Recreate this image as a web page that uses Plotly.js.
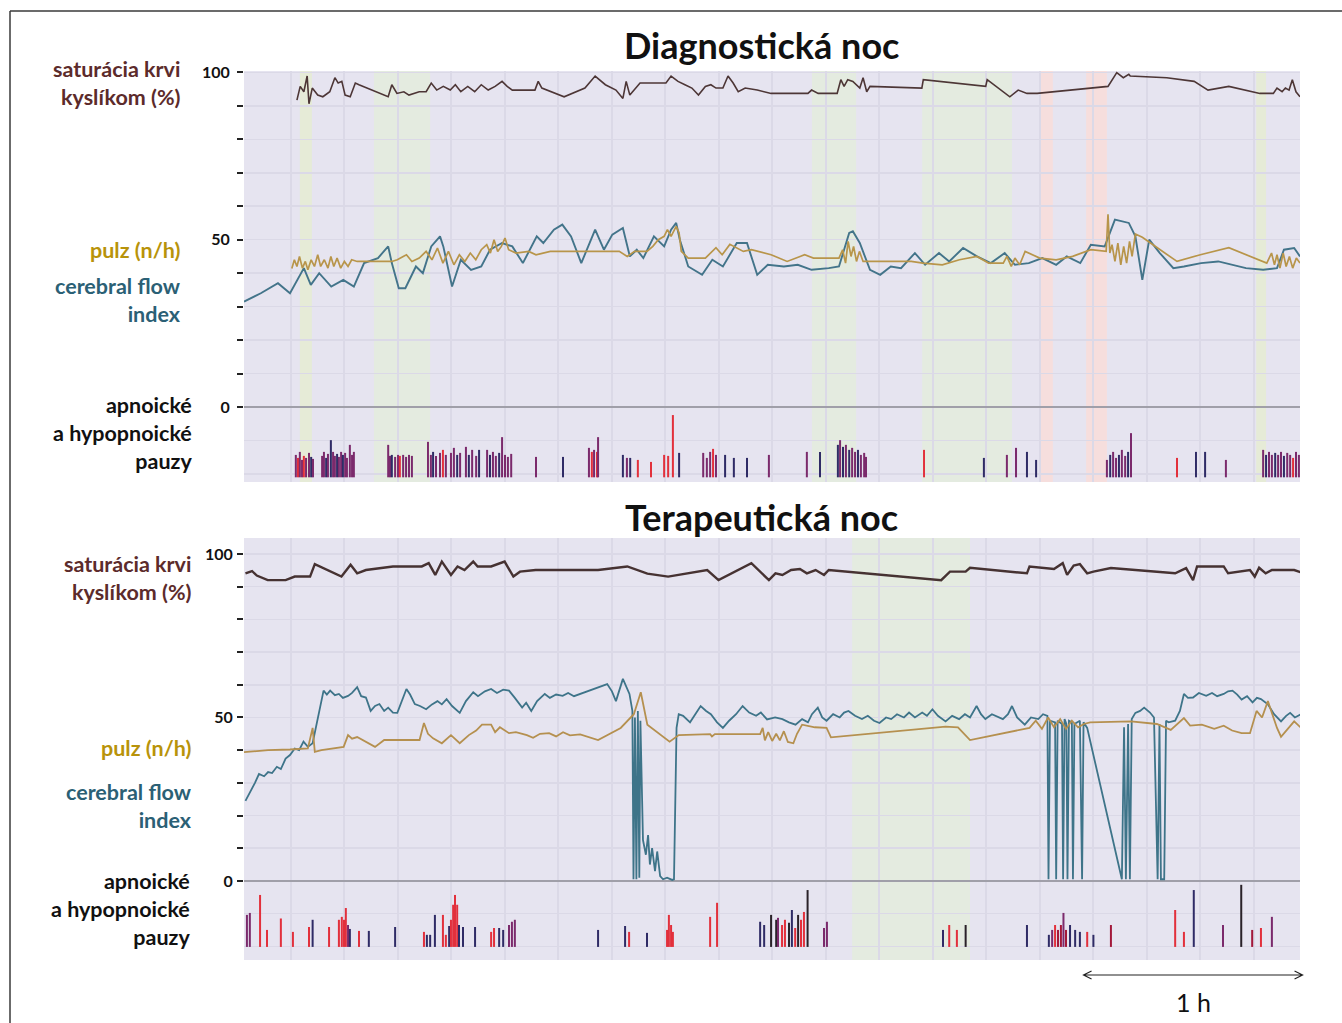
<!DOCTYPE html>
<html>
<head>
<meta charset="utf-8">
<script src="https://cdn.plot.ly/plotly-3.0.1.min.js"></script>
<style>
html,body{margin:0;padding:0;background:#ffffff;}
#chart{width:1342px;height:1023px;}
</style>
</head>
<body>
<div id="chart"></div>
<script>
// ---------------- DATA (x = minutes from start of recording) ----------------
// Diagnostic night
const diagSatMin = [14.5,15.4,16.4,17.3,17.8,18.7,20.2,21.6,23.5,24.9,25.8,26.8,27.7,29.1,30.5,31.5,39.5,40.5,41.9,43.8,45.2,48.0,49.9,51.3,52.8,54.6,56.5,57.9,59.4,61.3,63.2,65.0,66.9,68.8,70.7,72.1,73.5,79.7,80.6,81.6,87.7,93.4,96.2,99.0,101.9,103.8,104.7,105.7,108.5,115.6,117.0,118.9,120.8,122.7,124.5,126.4,127.9,129.3,131.2,132.6,134.0,135.4,137.3,140.6,144.4,154.5,155.5,157.3,162.5,163.5,164.4,165.4,166.8,168.7,169.6,170.6,171.5,185.7,186.1,203.2,203.6,209.8,212.1,214.5,217.3,236.7,239.1,240.9,242.4,242.8,252.8,260.3,264.1,269.8,278.3,282.0,283.0,284.4,285.3,286.3,287.2,288.2,289.3];
const diagSat = [91.7,95.8,94.2,98.9,90.6,95.3,93.2,92.7,94.2,98.4,96.8,97.3,93.2,92.7,96.8,96.3,92.7,96.3,93.7,94.2,93.2,94.2,94.2,96.8,94.7,95.8,94.7,96.3,94.2,95.8,94.2,96.3,94.7,95.8,97.3,95.8,94.7,94.7,97.3,95.3,92.7,95.3,98.9,96.3,94.7,92.2,97.3,93.2,96.8,96.8,98.9,97.3,96.3,95.3,93.2,95.8,96.3,95.3,95.3,98.9,96.8,94.2,95.3,94.7,93.7,93.7,94.7,93.7,93.7,97.8,95.8,97.8,97.3,95.3,98.4,94.2,95.8,95.3,97.8,95.8,97.8,92.7,94.7,93.7,93.7,95.8,99.9,98.4,99.4,98.9,98.4,97.3,94.7,95.8,93.7,93.7,95.3,94.2,95.3,94.7,97.8,94.2,92.7];

const diagCfiMin = [0,4.6,9.3,12.6,16.4,18.3,20.6,23.9,27.2,30.1,32.9,36.7,39.5,40.5,42.4,44.2,47.1,49.0,51.3,53.7,54.6,57.0,59.4,62.2,65.0,67.4,70.7,73.5,76.4,80.2,82.0,84.9,87.2,89.6,92.4,96.2,98.6,100.9,103.8,105.7,107.6,109.4,112.3,115.1,117.0,118.4,119.4,121.7,125.5,128.3,131.2,135.0,137.8,140.6,143.5,
  147.9,151.7,155.5,160.2,163.0,165.8,166.8,168.7,171.5,174.3,177.2,180.0,183.8,186.6,190.4,193.2,197.0,200.8,204.6,208.4,211.2,215.0,218.7,222.5,225.4,229.1,232.0,235.8,237.6,238.6,242.4,244.2,246.1,248.0,250.9,254.6,257.5,262.2,266.9,270.7,274.5,279.2,283.0,284.9,287.7,289.3];
const diagCfi = [31.5,34,37,34,41.5,36.5,40,36,38,36,43,44.5,48,43,35.5,35.5,42,40,48,51,48,36,44,41,42,47,49,48,43,51,49,53,54.5,51,43,53,47,51.5,53.5,45,47,44.5,51,48,53,55,50,42,39.5,44,42,49,49,39.5,42.5,
  42,42.5,41,41.5,42,52,52.5,49,41,39.5,42,41.5,46,42.5,46,43.5,47.5,45,43,46,42.5,43,44.5,42.5,45,43,48.5,48,53.5,56,55,51,38,50,46,41.5,42,43,43.5,42.5,41.5,41,41.5,47,47.5,45];

const diagPulseMin = [13.1,13.8,14.5,15.2,16.0,16.8,17.5,18.4,19.3,20.2,21.0,22.0,23.0,23.8,24.6,25.5,26.5,27.5,28.5,29.5,31.0,36.0,40.5,42.0,44.5,46.0,48.0,49.9,51.5,53.0,54.5,56.0,57.5,59.0,60.5,62.0,63.5,65.0,66.5,67.5,68.5,69.5,70.5,71.5,72.5,74.5,78.0,80.0,83.9,92.0,100.0,102.8,105.0,107.0,110.4,112.0,113.5,115.1,116.0,117.0,118.4,119.2,119.8,121.7,126.4,129.3,131.0,133.1,136.8,139.0,144.4,148.8,153.6,156.0,163.0,164.0,164.8,165.5,166.3,167.0,167.8,168.6,169.6,170.6,182.8,186.0,191.3,196.0,200.8,204.0,208.0,209.0,210.2,211.2,212.5,214.0,218.0,222.5,227.0,232.0,236.2,236.7,237.2,237.8,238.6,239.4,240.2,241.0,241.8,242.6,243.3,244.2,246.1,255.6,262.0,269.8,280.2,281.5,282.3,283.0,283.8,284.7,285.5,286.4,287.3,288.3,289.3];
const diagPulse = [41.4,44,42,45,41.5,43.5,41,44,42,45.5,42,44,41.5,45,42,44.5,41.5,43.5,42,44,43.5,43.5,43.5,44,45.5,43.5,44.5,46.5,44,47.5,43,46.5,42.5,45.5,43.5,46,44,47,48.5,46,50,46.5,48,50.5,47,46,46.5,45.5,46.5,46.5,46.5,46.5,45,46.5,46.5,48,50,51,53,51,54,52,46.5,44.5,44.5,47.6,45.5,48.6,46.5,47,45.5,43.5,45.5,44.5,44.5,47,43,49.5,45,48,43.5,46.5,43.5,43.5,43.5,43,42.5,44,45,43,43,45,42,44.5,42.5,46.5,44.5,44,45,47,46.5,57.6,46,48.5,43.5,49,42.5,48,43,49.5,45,51.7,50.7,43.5,45.5,47.6,43,46,42.5,45.5,41.5,46,42,45,41.5,44.5,43];

// apnoe / hypopnoe events: time, top of mark, event type
const diagApneaMin = [14.2,14.8,15.3,15.9,16.4,17.0,17.8,18.4,18.9,21.4,21.9,22.5,23.0,23.8,24.4,24.9,25.5,26.0,26.6,27.1,27.7,28.2,29.0,29.6,30.1,
  39.5,40.0,40.5,41.4,42.2,42.7,43.6,44.4,45.2,46.0,
  50.4,51.2,51.8,52.6,53.7,54.5,55.3,56.7,57.5,58.4,59.2,60.8,61.6,62.5,63.6,64.4,66.6,67.4,68.2,69.0,69.9,70.7,71.5,72.3,73.2,
  80.0,87.4,94.5,95.3,95.9,96.7,97.0,103.8,104.9,105.8,107.9,111.5,115.1,116.2,117.5,119.2,
  125.8,126.8,127.7,128.5,129.3,131.8,134.2,137.8,143.8,154.2,157.8,
  162.7,163.3,164.1,164.9,165.8,166.6,167.4,168.2,169.0,169.9,170.4,
  186.3,202.7,209.0,211.5,214.5,217.0,
  236.4,237.3,238.1,238.9,239.7,240.5,241.4,242.2,243.0,
  255.6,260.8,263.3,269.0,
  279.2,280.0,280.8,281.6,282.5,283.3,284.1,284.9,285.8,286.6,287.4,288.2,289.0];
const diagApneaTop = [-14.3,-15.2,-13.4,-15.8,-14.6,-15.2,-13.7,-14.9,-15.5,-14.6,-13.4,-15.2,-14.0,-9.9,-13.4,-14.6,-14.0,-14.9,-13.4,-14.3,-13.7,-15.2,-11.3,-14.3,-13.4,
  -11.3,-14.6,-14.3,-14.9,-14.3,-14.6,-14.3,-14.9,-14.3,-14.6,
  -10.4,-14.3,-13.4,-14.6,-13.7,-12.8,-14.3,-13.7,-12.2,-14.3,-13.7,-11.9,-14.3,-12.8,-14.6,-12.8,-12.8,-14.3,-13.4,-14.6,-13.7,-9.0,-14.3,-14.9,-14.0,
  -14.9,-14.9,-12.2,-13.4,-12.8,-13.4,-9.0,-14.3,-15.2,-15.2,-15.8,-16.4,-14.3,-14.6,-2.4,-13.7,
  -13.7,-15.2,-13.4,-12.5,-14.3,-14.3,-15.2,-15.2,-14.3,-13.4,-13.4,
  -11.3,-9.9,-11.9,-11.3,-12.8,-12.2,-13.4,-12.8,-14.3,-13.7,-14.9,
  -12.8,-15.2,-14.3,-12.2,-13.4,-15.8,
  -15.8,-14.3,-13.4,-15.2,-14.3,-12.8,-14.6,-13.4,-7.8,
  -15.2,-13.4,-13.4,-15.8,
  -12.8,-14.3,-13.4,-14.3,-13.7,-14.3,-13.4,-14.6,-13.7,-14.3,-15.2,-13.4,-14.3];
const diagApneaType = ['P','R','P','P','R','P','P','N','P','P','P','N','P','N','P','P','N','P','P','N','P','P','P','P','P',
  'P','P','N','P','P','R','P','P','P','P',
  'P','P','N','P','P','R','P','P','P','N','P','P','N','P','P','N','P','N','P','P','N','P','P','P','P',
  'P','N','P','R','P','R','P','N','P','N','R','R','R','R','R','N',
  'P','P','P','R','P','N','N','N','P','P','N',
  'N','P','N','P','N','P','P','N','P','P','P',
  'R','N','P','P','N','N',
  'P','N','P','P','N','P','P','N','P',
  'R','N','N','P',
  'P','N','P','P','N','P','P','N','P','P','R','P','P'];

// Therapeutic night
const theraSatMin = [0.4,2.2,3.5,6.5,11.4,13.9,18.1,19.4,26.7,29.2,31.0,33.4,40.8,48.7,50.6,52.4,54.2,56.7,58.5,60.4,62.8,64.0,67.7,71.4,73.8,75.6,79.9,97.0,105.0,110.5,116.2,126.9,130.0,139.0,143.8,145.6,147.5,149.9,152.3,154.2,156.6,158.9,160.2,191.0,193.4,197.7,198.9,214.5,215.2,221.9,224.3,225.5,227.3,229.0,231.0,232.7,237.5,255.1,258.1,260.0,261.1,268.4,269.6,275.6,276.9,278.1,279.9,281.6,287.7,289.6];
const theraSat = [94.1,94.8,93.4,92.0,92.0,93.1,93.1,96.9,93.1,96.7,94.1,95.1,96.2,96.2,97.2,93.6,97.7,93.6,96.2,95.1,97.7,96.2,96.2,97.7,93.1,94.6,95.1,95.1,96.2,94.0,93.1,95.1,92.0,97.2,92.0,94.1,93.6,95.1,95.4,94.1,95.1,93.6,95.1,92.0,94.6,94.6,95.8,94.1,96.2,95.4,97.2,93.6,96.5,96.9,94.1,94.6,95.7,94.1,95.7,92.0,96.2,96.2,94.1,95.1,93.1,95.8,94.1,95.1,95.1,94.4];

const theraCfiMin = [0.4,1.6,3.0,4.1,5.5,6.6,7.7,9.0,10.1,11.4,
  12.6,13.9,15.1,16.3,17.5,18.8,20.0,21.8,22.7,23.6,
  24.9,26.0,27.1,28.5,29.6,31.0,32.1,33.4,34.7,35.9,
  37.1,38.4,39.5,40.8,42.0,43.3,44.5,45.5,46.8,48.2,
  49.9,51.5,53.0,54.2,55.5,57.0,59.1,60.8,62.8,64.1,
  66.0,67.7,69.3,71.0,72.6,74.2,76.2,77.3,78.7,80.3,
  82.4,83.8,85.5,87.3,88.8,90.4,92.2,93.7,95.3,97.0,
  99.5,100.8,101.9,103.8,105.6,106.4,106.7,107.1,107.5,107.9,
  108.3,108.6,109.3,110.1,110.7,111.2,111.8,112.6,113.2,114.0,
  114.8,115.9,117.3,117.8,118.5,119.1,120.3,122.2,123.6,125.1,
  126.6,127.9,129.6,131.2,132.9,134.8,136.6,138.4,140.3,141.6,
  143.3,145.5,147.5,149.3,151.1,152.9,154.5,155.6,157.2,158.4,
  159.6,161.4,163.2,164.4,165.6,167.4,169.3,170.9,172.6,174.1,
  175.9,177.3,178.9,180.8,182.2,183.8,185.8,187.1,188.6,190.1,
  192.2,194.0,195.9,197.5,198.9,200.7,201.9,203.1,204.9,207.9,
  209.3,210.4,211.8,213.9,215.6,217.6,218.9,220.1,220.4,220.8,
  222.2,222.5,222.9,224.1,224.4,224.8,225.3,225.6,226.0,226.8,
  227.1,227.5,229.0,229.6,230.0,231.0,240.5,241.1,241.6,242.2,
  242.7,243.2,244.2,245.5,246.6,248.2,249.3,250.3,250.8,251.2,
  252.1,252.6,253.3,255.1,256.4,257.5,258.6,260.0,261.6,263.6,
  265.2,266.6,268.4,269.6,270.8,272.1,273.3,274.8,276.3,277.5,
  278.6,280.5,282.2,284.1,285.5,286.6,287.9,289.6];
const theraCfi = [24.5,27,30,32.7,32,33.3,33,34.9,34.2,37.4,
  38.5,40.5,40,42.6,41,42.1,48.8,58.2,57,58.2,
  56.8,57.2,56,56.6,57.5,59.3,56.5,56.1,52,53.5,
  54.1,52,53,51.5,51.4,55,58.7,57,54.1,53.5,
  52.5,54,55,54,55.6,53.5,51.4,55,57.7,56.5,
  58,58.7,57.5,58.5,58.2,56,53,54.5,52,55,
  57.2,56,57,56.6,57.5,56.5,57.2,58,58.5,59.3,
  60.2,58,55,61.8,57.2,52,0.5,50,0.5,52,
  1,49,12.5,8,14,5,10,3,9,1.5,
  0.5,1,0.3,0.5,46.8,51,50.5,48.5,51,53.5,
  52,51,48.5,46.8,49,51,53.5,51.5,50.5,51.5,
  49.4,50,49.5,48.5,47.8,49.5,48.5,51,53,50,
  49,51,50,51.5,52,50.5,49.5,50.5,49,48.3,
  50,49.5,51,50,51.5,50,51.5,50.5,52.5,50.5,
  48.8,50.5,49.5,51,50,53.5,51,49.5,51,49.5,
  51,53.5,50,47.8,50,49.5,51,50.5,0.5,49,
  48.5,0.5,49,48,0.5,49.5,48,0.5,49,48.5,
  0.5,48,49,0.5,48.5,46.8,0.5,47,0.5,48,
  0.5,49.5,51.4,52,53,51.5,50,0.5,48,0.5,
  0.5,49,48.5,49,52,57.2,56,56.1,57.5,56.6,
  57.5,56.5,57.2,58,58.2,57,55.5,56.5,54.6,56,
  55.6,54,51,48.8,50.5,51.4,50,51];

const theraPulseMin = [0,6.6,12.6,17.5,18.8,19.4,21.2,27.3,28.5,29.6,
  31.0,33.4,35.9,38.4,40.8,48.1,49.3,50.4,51.8,54.2,
  56.7,59.1,61.6,63.6,65.2,67.7,68.8,70.1,72.6,74.5,
  77.5,79.2,81.1,83.6,85.5,87.4,89.3,92.1,97.0,103.2,
  106.8,108.7,110.5,116.6,119.1,127.7,128.2,129.0,141.4,142.1,
  142.7,143.6,144.7,145.8,146.8,147.9,149.0,150.5,151.5,152.9,
  156.4,159.6,160.8,192.2,195.6,198.9,215.2,216.9,218.6,220.3,
  221.9,223.6,225.2,226.8,228.5,230.1,231.8,243.0,250.1,253.9,
  257.5,259.2,262.4,265.8,268.4,270.7,273.3,275.6,277.4,278.9,
  280.5,283.0,284.1,287.7,289.6];
const theraPulse = [39.4,40,40.2,40.5,46.8,39.5,40,41,44.6,43.5,
  44,42.6,41,43.1,43.1,43.1,48.3,45,43.6,42.1,
  44.6,42.1,44.6,46,47.8,47.8,45.5,47,45.2,45.5,
  44.6,43.8,45,45.2,44.2,45.5,44.5,44.8,43.1,46.8,
  51,57.7,47.8,42.6,44.6,44.9,44.2,44.9,44.9,46.8,
  43,45.5,42.8,45,43,45.8,42.5,42.1,45,47.8,
  47,46.8,43.9,47.2,47,43.1,46.8,49,46.5,50,
  47,49.5,46.5,49,47,48,48.5,48.8,48,46.2,
  49.8,47.5,47.8,46.5,47.5,46,45.2,45.2,52,50,
  55,46.8,44.1,48.8,46.8];

const theraApneaMin = [0.8,1.6,4.4,6.3,10.1,13.4,17.8,18.8,23.3,26.0,26.8,27.4,27.9,28.5,29.0,31.5,34.2,41.4,
  49.3,50.1,51.0,52.3,54.5,55.3,56.2,56.7,57.3,57.8,58.4,58.9,60.0,63.3,
  67.7,68.5,69.9,71.0,72.6,73.4,74.2,
  97.0,104.4,105.5,110.4,115.9,116.4,117.0,117.5,127.7,129.6,
  141.4,142.5,144.4,145.8,146.3,147.4,148.2,149.3,150.1,151.0,151.8,152.6,153.4,154.4,158.9,159.7,
  191.5,193.2,195.3,197.7,
  214.5,220.5,221.4,222.2,223.0,223.8,224.5,225.2,226.3,227.7,229.0,231.0,232.7,237.5,
  255.1,257.5,260.2,268.2,273.2,276.2,278.6,281.6];
const theraApneaTop = [-10.4,-9.8,-4.3,-15.0,-11.5,-15.6,-14.1,-11.9,-14.1,-11.9,-11.0,-11.9,-8.3,-13.5,-14.7,-15.3,-15.3,-14.1,
  -15.6,-16.5,-16.5,-10.4,-10.4,-16.5,-13.8,-11.9,-7.3,-4.3,-7.3,-13.5,-14.1,-14.1,
  -15.6,-14.4,-14.4,-15.0,-13.5,-12.5,-11.9,
  -15.0,-13.8,-15.6,-15.9,-15.0,-10.4,-13.5,-15.6,-11.0,-6.7,
  -12.5,-13.5,-10.4,-11.9,-11.3,-13.5,-11.9,-12.8,-8.9,-14.4,-10.4,-11.9,-9.5,-2.8,-14.4,-12.5,
  -15.0,-13.5,-15.0,-13.5,
  -13.5,-16.5,-15.0,-13.5,-15.0,-13.5,-9.8,-15.0,-13.5,-15.0,-15.6,-15.6,-16.5,-13.5,
  -8.9,-15.6,-2.8,-13.5,-1.2,-15.0,-14.4,-11.0];
const theraApneaType = ['P','P','R','R','R','R','R','N','R','R','R','R','R','P','N','R','N','N',
  'R','N','N','N','R','R','N','R','R','R','R','N','N','N',
  'R','R','N','N','P','P','P',
  'N','N','R','N','R','R','R','R','R','R',
  'N','N','K','K','P','R','R','K','N','R','K','R','R','K','P','P',
  'N','R','R','K',
  'N','N','P','R','M','M','P','M','N','N','N','R','N','M',
  'R','R','N','P','K','M','R','P'];

// sleep-stage background segments [start, end] in minutes
const diagYellowBands = [[15.3,18.6],[277.3,280.0]];
const diagGreenBands = [[35.6,51.0],[155.6,167.7],[185.8,210.4]];
const diagRedBands = [[218.1,221.6],[230.7,236.4]];
const theraGreenBands = [[166.6,198.9]];

const scaleBarMinutes = 60;   // "1 h"
const xSpan = [0, 289.3];
const diagBase = -21, theraBase = -20.2;

// ---------------- STYLE ----------------
const W = 1342, H = 1023;
const px = v => v / W, py = v => 1 - v / H;
const FONT = 'Lato, "Open Sans", sans-serif';
const typeColor = {P:'#7b2a6c', R:'#e2303c', N:'#2f2b66', K:'#2a2229', M:'#a3183a'};
const GRID = '#dbd9e7';
const xDom = [px(244), px(1300)];

function xAxis(anchor){
  return {domain:xDom, range:xSpan, anchor:anchor, showticklabels:false, ticks:'',
    showgrid:true, gridcolor:GRID, gridwidth:2, tick0:12.75, dtick:14.66,
    zeroline:false, showline:false, fixedrange:true};
}
function yAxis(anchor, domain, range, standoff){
  const vals=[], txt=[];
  for(let v=0; v<=100; v+=10){ vals.push(v); txt.push(v%50===0 ? String(v) : ''); }
  return {domain:domain, range:range, anchor:anchor, tickvals:vals, ticktext:txt,
    ticks:'outside', ticklen:6, tickwidth:2, tickcolor:'#222', ticklabelstandoff:standoff,
    tickfont:{family:FONT, size:16, color:'#111', weight:700},
    showgrid:true, gridcolor:GRID, gridwidth:1.5, showline:false,
    zeroline:true, zerolinecolor:'#a09fa9', zerolinewidth:2,
    minor:{tickvals:[-20,-10], showgrid:true, gridcolor:GRID, gridwidth:1.5, ticks:''},
    fixedrange:true};
}

function barTrace(xs, tops, types, base, xa, ya){
  return {type:'bar', x:xs, y:tops.map(t => t - base), base:xs.map(() => base),
    width:0.55, marker:{color:types.map(t => typeColor[t]), line:{width:0}},
    xaxis:xa, yaxis:ya, hoverinfo:'skip', showlegend:false};
}
function lineTrace(xs, ys, color, w, xa, ya){
  return {type:'scatter', mode:'lines', x:xs, y:ys, line:{color:color, width:w},
    xaxis:xa, yaxis:ya, hoverinfo:'skip', showlegend:false, cliponaxis:true};
}

const data = [
  barTrace(diagApneaMin, diagApneaTop, diagApneaType, diagBase, 'x', 'y'),
  lineTrace(diagSatMin, diagSat, '#4d3636', 1.6, 'x', 'y'),
  lineTrace(diagCfiMin, diagCfi, '#43748a', 1.9, 'x', 'y'),
  lineTrace(diagPulseMin, diagPulse, '#b8954a', 1.7, 'x', 'y'),
  barTrace(theraApneaMin, theraApneaTop, theraApneaType, theraBase, 'x2', 'y2'),
  lineTrace(theraSatMin, theraSat, '#463232', 2.4, 'x2', 'y2'),
  lineTrace(theraCfiMin, theraCfi, '#3e7489', 1.8, 'x2', 'y2'),
  lineTrace(theraPulseMin, theraPulse, '#b5904f', 1.8, 'x2', 'y2')
];

const shapes = [];
function band(xr, yr, seg, color){
  shapes.push({type:'rect', xref:xr, yref:yr + ' domain', x0:seg[0], x1:seg[1], y0:0, y1:1,
    fillcolor:color, line:{width:0}, layer:'below'});
}
diagYellowBands.forEach(s => band('x','y',s,'#e6ebd7'));
diagGreenBands.forEach(s => band('x','y',s,'#e4ebe0'));
diagRedBands.forEach(s => band('x','y',s,'#f6dedd'));
theraGreenBands.forEach(s => band('x2','y2',s,'#e4ebe0'));

// frame
shapes.push({type:'line', xref:'paper', yref:'paper', x0:px(10), x1:px(1342), y0:py(11), y1:py(11), line:{color:'#3a3a3a', width:1.5}});
shapes.push({type:'line', xref:'paper', yref:'paper', x0:px(10), x1:px(10), y0:py(11), y1:py(1023), line:{color:'#3a3a3a', width:1.5}});

// 1 h scale bar, placed with the bottom x-axis scale
const xPaper = m => xDom[0] + (m - xSpan[0]) / (xSpan[1] - xSpan[0]) * (xDom[1] - xDom[0]);
const barEnd = 290, barStart = barEnd - scaleBarMinutes;
const ax0 = xPaper(barStart), ax1 = xPaper(barEnd), ay = py(975);
const hx = 8 / W, hy = 4 / H;
shapes.push({type:'path', xref:'paper', yref:'paper', line:{color:'#222', width:1.2},
  path:`M${ax0},${ay} L${ax1},${ay} M${ax0+hx},${ay+hy} L${ax0},${ay} L${ax0+hx},${ay-hy} M${ax1-hx},${ay+hy} L${ax1},${ay} L${ax1-hx},${ay-hy}`});

function label(text, xr, yc, color){
  return {text:text, xref:'paper', yref:'paper', x:px(xr), y:py(yc), xanchor:'right', yanchor:'middle',
    align:'right', showarrow:false, font:{family:FONT, size:21.5, color:color, weight:700}};
}
const annotations = [
  {text:'Diagnostická noc', xref:'paper', yref:'paper', x:px(761), y:py(45), xanchor:'center', yanchor:'middle',
   showarrow:false, font:{family:FONT, size:36, color:'#111', weight:700}},
  {text:'Terapeutická noc', xref:'paper', yref:'paper', x:px(761), y:py(517), xanchor:'center', yanchor:'middle',
   showarrow:false, font:{family:FONT, size:36, color:'#111', weight:700}},
  label('saturácia krvi<br>kyslíkom (%)', 183, 83, '#5c2b2b'),
  label('pulz (n/h)', 183, 250, '#b8930a'),
  label('cerebral flow<br>index', 183, 300, '#2b6075'),
  label('apnoické<br>a hypopnoické<br>pauzy', 194, 433, '#111'),
  label('saturácia krvi<br>kyslíkom (%)', 194, 578, '#5c2b2b'),
  label('pulz (n/h)', 194, 748, '#b8930a'),
  label('cerebral flow<br>index', 194, 806, '#2b6075'),
  label('apnoické<br>a hypopnoické<br>pauzy', 192, 909, '#111'),
  {text:'1 h', xref:'paper', yref:'paper', x:xPaper(barEnd - scaleBarMinutes/2), y:py(1002), xanchor:'center', yanchor:'middle',
   showarrow:false, font:{family:FONT, size:25, color:'#111', weight:400}}
];

const layout = {
  width:W, height:H, margin:{l:0, r:0, t:0, b:0, pad:0},
  paper_bgcolor:'#ffffff', plot_bgcolor:'#e6e4f0',
  showlegend:false, hovermode:false, barmode:'overlay',
  xaxis:xAxis('y'),
  yaxis:yAxis('x', [py(482), py(71)], [-22.4, 100.4], 4),
  xaxis2:xAxis('y2'),
  yaxis2:yAxis('x2', [py(960), py(538)], [-24.2, 104.9], 1),
  shapes:shapes, annotations:annotations,
  font:{family:FONT}
};

Plotly.newPlot('chart', data, layout, {staticPlot:true, displayModeBar:false});
</script>
</body>
</html>
